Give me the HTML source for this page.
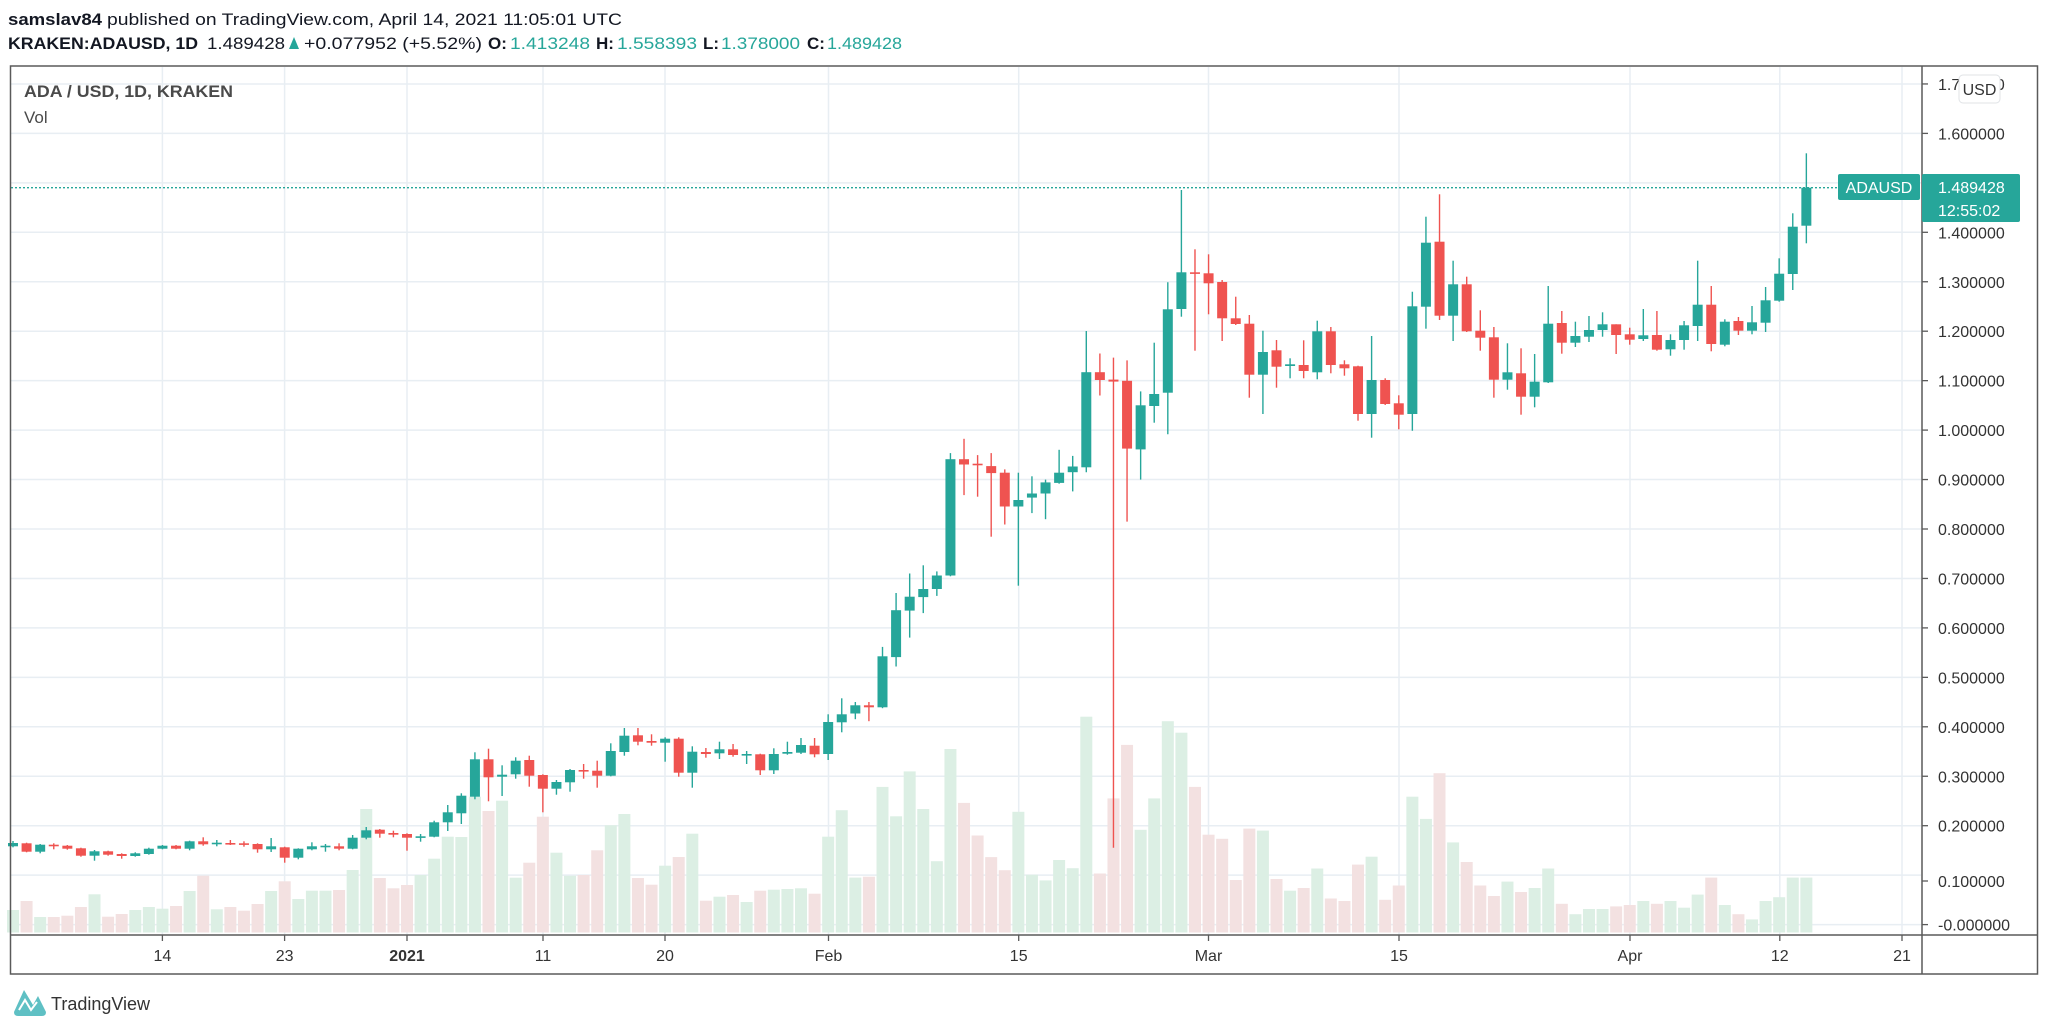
<!DOCTYPE html>
<html><head><meta charset="utf-8"><style>
html,body{margin:0;padding:0;background:#fff;}
svg{display:block;}
text{font-family:"Liberation Sans",sans-serif;}
</style></head><body>
<svg id="s" width="2048" height="1032" viewBox="0 0 2048 1032" xmlns="http://www.w3.org/2000/svg">
<rect width="2048" height="1032" fill="#fff"/>
<text x="8" y="25" font-size="17" fill="#131722"><tspan font-weight="bold" textLength="94" lengthAdjust="spacingAndGlyphs">samslav84</tspan><tspan x="107" textLength="515" lengthAdjust="spacingAndGlyphs">published on TradingView.com, April 14, 2021 11:05:01 UTC</tspan></text>
<g font-size="17">
<text x="8" y="49" font-weight="bold" fill="#131722" textLength="190" lengthAdjust="spacingAndGlyphs">KRAKEN:ADAUSD, 1D</text>
<text x="207" y="49" fill="#131722" textLength="78" lengthAdjust="spacingAndGlyphs">1.489428</text>
<polygon points="289,49 299,49 294,37" fill="#26a69a"/>
<text x="304" y="49" fill="#131722" textLength="178" lengthAdjust="spacingAndGlyphs">+0.077952 (+5.52%)</text>
<text x="488" y="49" font-weight="bold" fill="#131722">O:</text><text x="510" y="49" fill="#26a69a" textLength="80" lengthAdjust="spacingAndGlyphs">1.413248</text>
<text x="596" y="49" font-weight="bold" fill="#131722">H:</text><text x="617" y="49" fill="#26a69a" textLength="80" lengthAdjust="spacingAndGlyphs">1.558393</text>
<text x="703" y="49" font-weight="bold" fill="#131722">L:</text><text x="721" y="49" fill="#26a69a" textLength="79" lengthAdjust="spacingAndGlyphs">1.378000</text>
<text x="807" y="49" font-weight="bold" fill="#131722">C:</text><text x="827" y="49" fill="#26a69a" textLength="75" lengthAdjust="spacingAndGlyphs">1.489428</text>
</g>
<g id="grid" stroke="#e8eef3" stroke-width="1.5"></g>
<g id="vol"></g>
<g id="cdl"></g>
<line x1="11" y1="187.7" x2="1838" y2="187.7" stroke="#26a69a" stroke-width="1.3" stroke-dasharray="2,2"/>
<text x="24" y="97" font-size="17" font-weight="bold" fill="#4a4a4a" textLength="209" lengthAdjust="spacingAndGlyphs">ADA / USD, 1D, KRAKEN</text>
<text x="24" y="123" font-size="17" fill="#4a4a4a">Vol</text>
<rect x="10.5" y="66" width="2027" height="908" fill="none" stroke="#5a5a5a" stroke-width="1.5"/>
<line x1="10" y1="935" x2="2038" y2="935" stroke="#5a5a5a" stroke-width="1.5"/>
<line x1="1922" y1="66" x2="1922" y2="974" stroke="#5a5a5a" stroke-width="1.5"/>
<g id="pax" font-size="16" fill="#333"></g>
<g id="tax" font-size="16" fill="#333" text-anchor="middle"></g>
<rect x="1959" y="75" width="41" height="28" rx="4" fill="#fff" stroke="#e0e3e6"/>
<text x="1979.5" y="95" font-size="16" fill="#333" text-anchor="middle">USD</text>
<rect x="1838" y="174" width="82" height="26" rx="2" fill="#26a69a"/>
<text x="1879" y="193" font-size="16" fill="#fff" text-anchor="middle">ADAUSD</text>
<rect x="1922" y="174" width="98" height="48" rx="2" fill="#26a69a"/>
<text x="1938" y="193" font-size="16" fill="#fff">1.489428</text>
<text x="1938" y="216" font-size="16" fill="#fff">12:55:02</text>
<g>
<path d="M14,1012 L24,990 L33,1005 L38,996 L46,1012 Z" fill="#5fc0c4"/>
<path d="M14,1012 Q14,1016 18,1016 L42,1016 Q46,1016 46,1012 Z" fill="#5fc0c4"/>
<path d="M19,1010 L25,1000 L31,1010 L37,1002" fill="none" stroke="#fff" stroke-width="2"/>
</g>
<text x="51" y="1010" font-size="18" fill="#333">TradingView</text>
</svg>
<script>
var NS="http://www.w3.org/2000/svg";
function el(p,t,a){var e=document.createElementNS(NS,t);for(var k in a)e.setAttribute(k,a[k]);p.appendChild(e);return e;}
var grid=document.getElementById('grid'),pax=document.getElementById('pax'),tax=document.getElementById('tax');
function py(p){return 924.6-494.5*p;}
for(var k=0;k<=17;k++){var y=py(k/10);el(grid,'line',{x1:11,x2:1921,y1:y,y2:y});}
var tx=[[162.4,'14'],[284.6,'23'],[407,'2021'],[543,'11'],[665,'20'],[828.5,'Feb'],[1018.7,'15'],[1208.5,'Mar'],[1399,'15'],[1630,'Apr'],[1779.8,'12'],[1902,'21']];
tx.forEach(function(t){el(grid,'line',{x1:t[0],x2:t[0],y1:67,y2:934});
el(tax,'line',{x1:t[0],x2:t[0],y1:935,y2:941,stroke:'#5a5a5a','stroke-width':1.3});
var e=el(tax,'text',{x:t[0],y:961});if(t[1]=='2021')e.setAttribute('font-weight','bold');e.textContent=t[1];});
for(var k=0;k<=17;k++){var y=py(k/10);if(k==1)y=881;var s=(k==0?'-0.000000':(k/10).toFixed(6));
el(pax,'line',{x1:1922,x2:1928,y1:y,y2:y,stroke:'#5a5a5a','stroke-width':1.3});
var e=el(pax,'text',{x:1938,y:y+6});e.textContent=s;}
var C=[[843.0,846.3,841.0,847.3,1],[843.3,851.7,842.7,852.3,0],[844.7,851.7,844.0,853.3,1],[844.7,846.3,843.3,849.3,0],[845.7,848.7,845.0,849.7,0],[848.3,855.7,847.7,856.7,0],[851.3,855.7,850.0,860.7,1],[851.3,854.7,850.7,855.7,0],[854.0,856.0,853.3,858.7,0],[853.3,856.0,852.3,856.7,1],
[848.7,854.0,847.7,854.7,1],[845.7,848.7,845.0,849.3,1],[845.7,848.7,845.0,849.3,0],[841.3,848.7,840.7,850.3,1],[841.3,844.3,837.3,845.7,0],[842.7,844.0,840.0,846.3,1],[843.0,844.0,840.0,845.0,0],[843.3,844.7,841.3,846.7,0],[844.0,849.3,843.3,852.7,0],[846.3,849.3,838.0,852.0,1],
[847.3,857.7,846.7,862.7,0],[848.7,857.7,848.3,859.3,1],[846.3,849.3,842.3,850.3,1],[845.7,847.3,844.0,851.7,1],[846.3,848.7,843.3,850.3,0],[837.7,848.7,835.0,849.3,1],[830.3,837.7,827.0,839.3,1],[829.7,833.7,829.0,837.7,0],[833.0,834.7,830.7,837.3,0],[834.0,837.7,833.3,850.7,0],
[836.3,837.3,834.0,841.7,1],[822.3,836.7,820.7,837.3,1],[812.3,822.3,805.0,831.0,1],[795.7,813.3,793.3,824.0,1],[759.3,796.7,752.3,799.3,1],[759.3,777.3,748.7,801.3,0],[774.7,776.7,765.3,796.0,1],[760.7,774.3,757.3,778.7,1],[760.0,775.7,755.7,786.7,0],[775.0,788.7,774.3,812.3,0],
[782.0,788.7,780.0,794.7,1],[770.0,782.3,769.0,791.7,1],[770.0,771.0,764.0,778.7,0],[770.7,775.7,760.7,787.7,0],[751.0,775.7,743.3,776.3,1],[735.7,752.0,728.0,755.7,1],[735.3,741.7,728.0,745.3,0],[741.0,742.7,734.3,745.7,0],[738.7,742.7,737.3,761.7,1],[738.7,772.7,737.3,776.7,0],
[751.7,772.7,746.3,787.7,1],[752.0,754.0,748.0,757.7,0],[749.3,753.3,741.7,759.0,1],[749.3,755.0,744.0,756.7,0],[754.0,755.3,751.0,764.0,1],[754.3,770.3,753.7,775.0,0],[754.0,770.3,748.3,774.0,1],[752.0,753.7,741.7,754.7,1],[745.0,752.7,738.0,754.0,1],[745.7,754.3,738.0,757.3,0],
[722.0,754.0,714.3,760.0,1],[714.3,722.3,698.3,732.3,1],[705.3,713.5,702,719.2,1],[705.3,707.3,702,721.2,0],[656.3,707.3,646.9,708.2,1],[610.2,657.1,593,666.5,1],[596.7,610.6,573.5,637.6,1],[589,597.1,565.3,613.1,1],[575.5,589,571.4,595.9,1],[459.2,575.5,453.1,576.3,1],
[459.2,464.5,438.8,495.1,0],[463.7,465.3,455.1,496.7,0],[466.1,473.1,453.1,536.7,0],[472.7,506.5,469.4,524.5,0],[500,506.5,472.7,585.7,1],[493.5,497.6,476.3,513.1,1],[482.4,493.5,479.6,519.2,1],[472.7,482.9,449.8,483.7,1],[466.5,472.2,455.9,491.4,1],[372.2,467.3,331,472.2,1],
[372.2,380,353.5,395.5,0],[379.6,381.6,357.6,847.8,0],[380.8,448.6,360.4,521.6,0],[405.3,449.4,391.4,479.6,1],[394,406,342.7,422.7,1],[309.3,392.7,282.3,434.3,1],[272.3,309,190,316.7,1],[272.3,273.7,249.3,350.7,0],[273.3,283.3,254.3,314.3,0],[282,318.3,280,341,0],
[318.3,324,296.7,325,0],[323.7,374.7,315,397.7,0],[352,374.7,330.7,414,1],[350.3,366.7,340,387.7,0],[364.3,366,358.3,378.3,1],[365,371,340.3,378.3,0],[331.3,372.3,320.7,379.3,1],[331.3,365,327,373.3,0],[364.3,368.3,360.3,375.7,0],[366.3,414,365.7,420.7,0],
[380,414,336,437.7,1],[380,404,378.3,405,0],[403.3,414.7,395.3,429.3,0],[306.3,414,291.7,430.7,1],[242.7,306.7,216.7,328.7,1],[241.7,315.7,194.3,320,0],[284.3,315.7,260.7,341,1],[284.3,331.3,276.7,332,0],[330.7,337.7,310.3,350.7,0],[337.3,379.7,327,397.7,0],
[372.3,379.7,343.3,389.7,1],[373.3,396.7,348.3,414.7,0],[381.7,396.7,354,407.3,1],[323.7,382.3,286,383,1],[323,342.7,311,353.7,0],[336,342.7,321.7,347,1],[330,336.7,316,342,1],[324.3,330,312.3,336.7,1],[324.3,335,324.3,354,0],[334.3,339.7,327.7,344.7,0],
[335.3,339,309,341,1],[335,349.7,311,350.7,0],[340,349.3,334.3,355.7,1],[325.3,340,321,349.7,1],[304.7,326,260.7,341,1],[304.7,344,286,351.3,0],[321.7,344.7,319.3,346.3,1],[321,330.7,317,335,0],[322.3,330.7,306,334.3,1],[300.3,322.7,287,332,1],
[273.7,300.7,258.3,301.7,1],[226.7,274,213.3,290,1],[187.7,225.7,153.3,243.3,1]];
var V=[910.0,901.0,917.0,917.0,915.7,907.0,894.3,916.7,914.0,910.0,907.0,908.7,906.0,891.0,875.7,909.3,907.0,910.7,904.0,891.0,
881.3,899.0,890.7,890.7,890.0,870.0,809.0,878.0,888.3,885.0,875.0,858.7,836.7,837.0,796.7,811.0,800.7,877.7,862.7,816.7,
852.7,875.7,875.0,850.3,825.3,814.0,878.0,884.7,865.7,857.0,833.7,900.7,896.7,895.0,902.0,890.7,889.7,889.0,888.3,893.7,
836.7,810.2,877.6,876.7,786.9,816.3,771.4,809,861.2,749,802.9,835.5,857.1,870.2,811.8,874.7,880.4,860,868.2,716.7,
873.5,798.4,744.9,829.8,798.4,721.2,732.7,786.9,834.7,838.8,880,828.6,
830.6,879,890.7,888,868.5,898.5,901,864.6,856.7,899.8,885.5,796.7,818.9,773.2,842.4,862,885.5,896,881.6,892,888,868.5,903.8,914.2,909,909,906.4,905,901,903.8,901,907.7,894.6,877.6,905,914.2,919.4,901,897.2,877.6,877.6];
var vg=document.getElementById('vol'),cg=document.getElementById('cdl');
for(var i=0;i<C.length;i++){var x=13+i*13.586,c=C[i],col=c[4]?'#26a69a':'#ef5350';
var vt=V[i];el(vg,'rect',{x:x-6,y:vt,width:12,height:Math.max(932.5-vt,1),fill:c[4]?'#dcefe4':'#f3e1e1'});
el(cg,'line',{x1:x,x2:x,y1:c[2],y2:c[3],stroke:col,'stroke-width':1.4});
var h=Math.max(c[1]-c[0],1.6);el(cg,'rect',{x:x-5,y:c[0],width:10,height:h,fill:col});}
</script>
</body></html>
